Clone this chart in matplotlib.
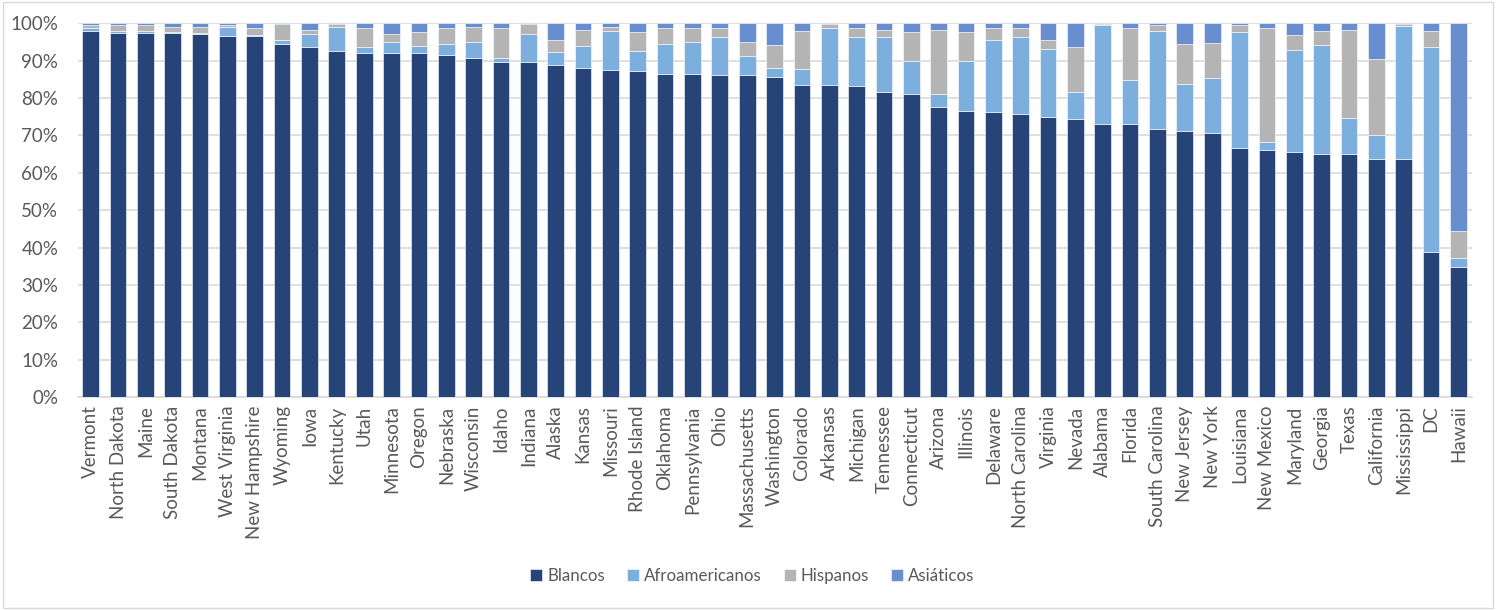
import numpy as np
import matplotlib
matplotlib.use("Agg")
from matplotlib import pyplot as plt

estados = ["Vermont", "North Dakota", "Maine", "South Dakota", "Montana",
           "West Virginia", "New Hampshire", "Wyoming", "Iowa", "Kentucky",
           "Utah", "Minnesota", "Oregon", "Nebraska", "Wisconsin", "Idaho",
           "Indiana", "Alaska", "Kansas", "Missouri", "Rhode Island",
           "Oklahoma", "Pennsylvania", "Ohio", "Massachusetts", "Washington",
           "Colorado", "Arkansas", "Michigan", "Tennessee", "Connecticut",
           "Arizona", "Illinois", "Delaware", "North Carolina", "Virginia",
           "Nevada", "Alabama", "Florida", "South Carolina", "New Jersey",
           "New York", "Louisiana", "New Mexico", "Maryland", "Georgia",
           "Texas", "California", "Mississippi", "DC", "Hawaii"]

# porcentajes acumulados (tope de cada segmento)
tope_blancos = [98.0, 97.5, 97.5, 97.5, 97.0, 96.5, 96.5, 94.5, 93.5, 92.6,
                92.1, 92.1, 92.1, 91.5, 90.6, 89.6, 89.6, 88.7, 88.1, 87.6,
                87.1, 86.5, 86.5, 86.1, 86.1, 85.7, 83.5, 83.5, 83.2, 81.7,
                81.1, 77.7, 76.6, 76.2, 75.7, 74.8, 74.3, 73.1, 73.1, 71.7,
                71.1, 70.5, 66.5, 66.0, 65.5, 65.1, 65.1, 63.6, 63.6, 38.8,
                34.8]
tope_afro = [98.6, 98.0, 98.0, 97.7, 97.3, 99.0, 96.9, 95.5, 97.0, 99.1,
             93.5, 95.1, 94.0, 94.5, 95.1, 90.6, 97.1, 92.2, 94.0, 98.0,
             92.6, 94.5, 95.1, 96.4, 91.1, 88.1, 87.7, 98.7, 96.4, 96.4,
             90.0, 81.1, 90.0, 95.6, 96.4, 93.0, 81.7, 99.6, 84.7, 98.0,
             83.8, 85.4, 97.7, 68.1, 92.8, 94.2, 74.6, 70.1, 99.3, 93.7,
             37.2]
tope_hispanos = [99.5, 99.5, 99.5, 99.0, 99.0, 99.5, 98.7, 99.7, 98.1, 99.7,
                 98.7, 97.1, 97.7, 98.7, 99.0, 98.7, 99.7, 95.5, 98.1, 99.0,
                 97.7, 98.7, 98.7, 98.7, 95.1, 94.2, 98.0, 99.7, 98.7, 98.1,
                 97.7, 98.1, 97.7, 98.7, 98.7, 95.5, 93.7, 99.8, 98.7, 99.5,
                 94.4, 94.8, 99.6, 98.8, 96.8, 97.9, 98.3, 90.3, 99.7, 97.8,
                 44.4]

blancos = np.array(tope_blancos)
afro = np.array(tope_afro) - blancos
hispanos = np.array(tope_hispanos) - np.array(tope_afro)
asiaticos = 100 - np.array(tope_hispanos)

series = [("Blancos", blancos, "#264478"),
          ("Afroamericanos", afro, "#7CAFDD"),
          ("Hispanos", hispanos, "#B4B4B4"),
          ("Asiáticos", asiaticos, "#698ED0")]

plt.rcParams["font.family"] = ["Lato", "DejaVu Sans"]
gris = "#595959"

fig = plt.figure(figsize=(14.96, 6.10), dpi=100)
ax = fig.add_axes([0.052, 0.349, 0.932, 0.613])

x = np.arange(len(estados))
base = np.zeros(len(estados))
for nombre, vals, color in series:
    ax.bar(x, vals, 0.61, bottom=base, color=color, label=nombre,
           edgecolor="white", linewidth=0.4, zorder=3)
    base = base + vals

ax.set_xlim(-0.47, len(estados) - 0.5)
ax.set_ylim(0, 100)
ax.set_yticks(np.arange(0, 101, 10))
ax.set_yticklabels([f"{v}%" for v in range(0, 101, 10)])
ax.set_xticks(x)
ax.set_xticklabels(estados, rotation=90)
ax.tick_params(axis="both", length=0, colors=gris, labelsize=13.5)
ax.tick_params(axis="x", pad=6)
ax.tick_params(axis="y", pad=14)
ax.grid(axis="y", color="#D9D9D9", linewidth=1.2, zorder=0)
for lado in ["top", "right", "left"]:
    ax.spines[lado].set_visible(False)
ax.spines["bottom"].set_color("#D9D9D9")
ax.spines["bottom"].set_linewidth(1.2)

fig.legend(loc="center", bbox_to_anchor=(0.503, 0.056), ncol=4, frameon=False,
           fontsize=12.2, handlelength=0.7, handleheight=0.7, handletextpad=0.3,
           columnspacing=1.3, labelcolor=gris)

borde = plt.Rectangle((0.002, 0.004), 0.996, 0.992, transform=fig.transFigure,
                      fill=False, edgecolor="#D9D9D9", linewidth=1)
fig.patches.append(borde)

fig.savefig("out.png", dpi=100)
